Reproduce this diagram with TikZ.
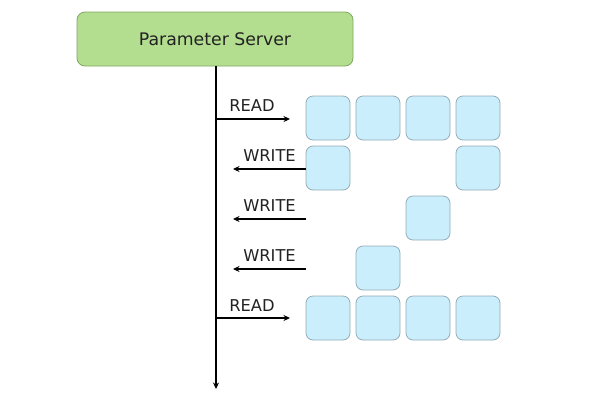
\documentclass[tikz,border=0pt]{standalone}
\usepackage{fontspec}
\setmainfont{DejaVu Sans}
\usetikzlibrary{arrows.meta}
\definecolor{psfill}{RGB}{179,222,143}
\definecolor{psdraw}{RGB}{128,168,98}
\definecolor{cellfill}{RGB}{202,238,252}
\definecolor{celldraw}{RGB}{150,172,184}
\definecolor{txt}{RGB}{34,34,34}
\begin{document}
\begin{tikzpicture}[x=1pt,y=-1pt,
  cell/.style={draw=celldraw, fill=cellfill, line width=0.8pt, rounded corners=7pt, minimum width=44pt, minimum height=44pt, inner sep=0pt},
  lbl/.style={text=txt, font=\fontsize{16.3}{17}\selectfont, inner sep=0pt},
  conn/.style={line width=1.7pt, -{Stealth[length=6.5pt,width=6pt]}}]
\useasboundingbox (0,0) rectangle (600,400);
\node[draw=psdraw, fill=psfill, line width=0.8pt, rounded corners=8pt, minimum width=276pt, minimum height=54pt, inner sep=0pt, text=txt, font=\fontsize{17.3}{18}\selectfont] (ps) at (215,39) {Parameter Server};
\coordinate (bottom) at (216,389);
\draw[conn] (ps.south -| bottom) -- (bottom);
% row 1
\node[cell] (a1) at (328,118) {};
\node[cell] (a2) at (378,118) {};
\node[cell] (a3) at (428,118) {};
\node[cell] (a4) at (478,118) {};
% row 2
\node[cell] (b1) at (328,168) {};
\node[cell] (b4) at (478,168) {};
% row 3
\node[cell] (c3) at (428,218) {};
% row 4
\node[cell] (d2) at (378,268) {};
% row 5
\node[cell] (e1) at (328,318) {};
\node[cell] (e2) at (378,318) {};
\node[cell] (e3) at (428,318) {};
\node[cell] (e4) at (478,318) {};
% arrows
\coordinate (r1s) at (216,119);
\coordinate (r1e) at (290,119);
\draw[conn] (r1s) -- (r1e);
\node[lbl] (r1l) at (252,106) {READ};
\coordinate (w1e) at (233,169);
\draw[conn] (b1.west |- w1e) -- (w1e);
\node[lbl] (w1l) at (269.5,156) {WRITE};
\coordinate (w2s) at (306,219);
\coordinate (w2e) at (233,219);
\draw[conn] (w2s) -- (w2e);
\node[lbl] (w2l) at (269.5,206) {WRITE};
\coordinate (w3s) at (306,269);
\coordinate (w3e) at (233,269);
\draw[conn] (w3s) -- (w3e);
\node[lbl] (w3l) at (269.5,256) {WRITE};
\coordinate (r2s) at (216,318);
\coordinate (r2e) at (290,318);
\draw[conn] (r2s) -- (r2e);
\node[lbl] (r2l) at (252,306) {READ};
\end{tikzpicture}
\end{document}
